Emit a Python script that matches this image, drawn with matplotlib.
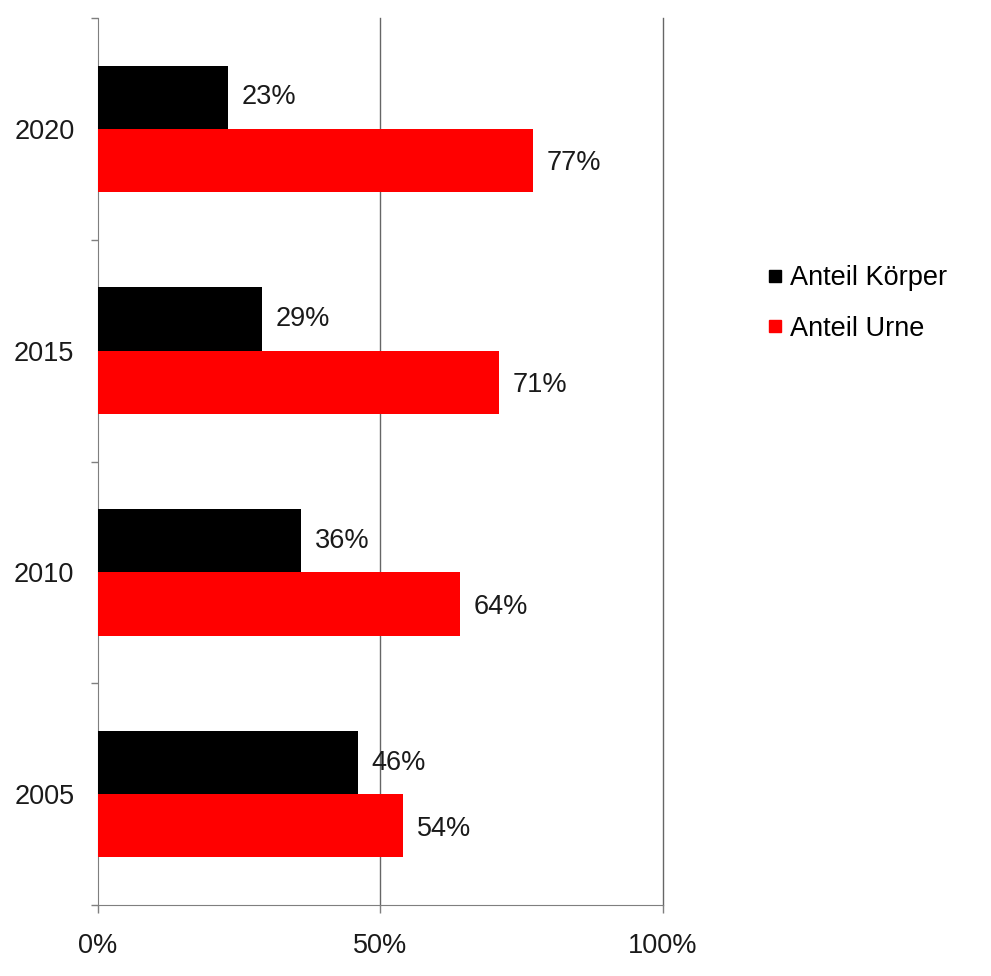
import matplotlib
matplotlib.use("Agg")
import matplotlib.pyplot as plt
from matplotlib.lines import Line2D
import numpy as np

years = ["2005", "2010", "2015", "2020"]
koerper = [46, 36, 29, 23]
urne = [54, 64, 71, 77]
series_names = ["Anteil Körper", "Anteil Urne"]
x_ticks = [0, 50, 100]
x_ticklabels = ["0%", "50%", "100%"]

plt.rcParams['font.family'] = ['Liberation Sans', 'DejaVu Sans']
FS = 19.5
GRAY = "#7f7f7f"
TXT = "#1a1a1a"

fig = plt.figure(figsize=(9.91, 9.76), dpi=100)
ax = fig.add_axes([0.0989, 0.0727, 0.5700, 0.9089])

y = np.arange(len(years))
h = 0.285
ax.barh(y + h / 2, koerper, height=h, color="#000000", zorder=3)
ax.barh(y - h / 2, urne, height=h, color="#ff0000", zorder=3)

for yi, v in zip(y, koerper):
    ax.annotate(f"{v}%", (v, yi + h / 2), xytext=(10, 0), textcoords="offset points",
                va="center", ha="left", fontsize=FS, color=TXT)
for yi, v in zip(y, urne):
    ax.annotate(f"{v}%", (v, yi - h / 2), xytext=(10, -2), textcoords="offset points",
                va="center", ha="left", fontsize=FS, color=TXT)

ax.set_xlim(0, 100)
ax.set_ylim(-0.48, len(years) - 0.52)
ax.set_xticks(x_ticks)
ax.set_xticklabels(x_ticklabels, fontsize=FS, color=TXT)
ax.set_yticks(y)
ax.set_yticklabels(years, fontsize=FS, color=TXT)
ax.set_yticks(np.arange(-0.5, len(years), 1.0), minor=True)
ax.tick_params(axis="y", which="major", length=0, pad=17)
ax.tick_params(axis="y", which="minor", length=5, color=GRAY, width=1)
ax.tick_params(axis="x", length=6, color=GRAY, width=1, pad=14)

for xv in x_ticks[1:]:
    ax.axvline(xv, color="#666666", linewidth=1.0, zorder=1, clip_on=False)
for s in ["top", "right"]:
    ax.spines[s].set_visible(False)
ax.spines["left"].set_color(GRAY)
ax.spines["bottom"].set_color(GRAY)

handles = [Line2D([], [], marker="s", linestyle="", color="#000000", markersize=8),
           Line2D([], [], marker="s", linestyle="", color="#ff0000", markersize=8)]
fig.legend(handles, series_names, loc="center left", bbox_to_anchor=(0.774, 0.689),
           bbox_transform=fig.transFigure, frameon=False, fontsize=FS,
           handlelength=0.6, handletextpad=0.25, labelspacing=0.9, borderaxespad=0,
           borderpad=0)

fig.savefig("out.png", dpi=100)
